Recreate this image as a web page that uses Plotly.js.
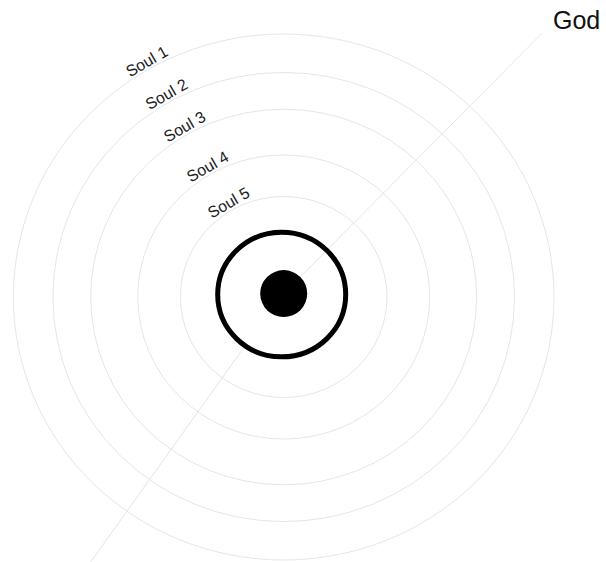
<!DOCTYPE html>
<html>
<head>
<meta charset="utf-8">
<script src="https://cdn.plot.ly/plotly-3.0.1.min.js"></script>
<style>html,body{margin:0;padding:0;background:#fff;}#chart{width:606px;height:562px;}</style>
</head>
<body>
<div id="chart"></div>
<script>
// ---- data ----
const soulLabels = ['Soul 1', 'Soul 2', 'Soul 3', 'Soul 4', 'Soul 5'];
const soulRadius = [270.3, 230.8, 193, 146, 103.3];
const labelAngleDeg = 119.5;      // where the soul labels sit around the rings
const ringRadius = 64;            // the thick black ring
const coreSize = 47;              // the filled core
const godLabel = 'God';
const godX = [0, 258.5];          // line from the centre to God
const godY = [0, 267.7];
const lowerAngleDeg = 235.2;      // line leaving the ring to the lower left
const lowerR = [64, 420];

// ---- layout helpers ----
const yScale = 0.973;             // pixel per unit vertically (x is 1)
const W = 606, H = 562;
const cxPx = 283.7, cyPx = 297;
const xRange = [-cxPx, W - cxPx];
const yRange = [-(H - cyPx) / yScale, cyPx / yScale];

const shapes = soulRadius.map(r => ({
  type: 'circle', xref: 'x', yref: 'y',
  x0: -r, x1: r, y0: -r, y1: r,
  line: {color: '#e6e6e6', width: 1}
}));
shapes.push({
  type: 'circle', xref: 'x', yref: 'y',
  x0: -ringRadius - 2, x1: ringRadius - 2, y0: -ringRadius + 2.5, y1: ringRadius + 2.5,
  line: {color: '#000', width: 5}
});

const a = lowerAngleDeg * Math.PI / 180;
const lowerX = lowerR.map(r => -2 + r * Math.cos(a));
const lowerY = lowerR.map(r => 2.5 + r * Math.sin(a));

const traces = [
  {x: godX, y: godY.map(v => v + 3.5), mode: 'lines', line: {color: '#e6e6e6', width: 1}, hoverinfo: 'skip'},
  {x: lowerX, y: lowerY, mode: 'lines', line: {color: '#e6e6e6', width: 1}, hoverinfo: 'skip'},
  {x: [0], y: [3.5], mode: 'markers', marker: {color: '#000', size: coreSize, line: {width: 0}}, hoverinfo: 'skip'}
];

const la = labelAngleDeg * Math.PI / 180;
const annotations = soulLabels.map((t, i) => ({
  x: (soulRadius[i] + 8) * Math.cos(la),
  y: (soulRadius[i] + 8) * Math.sin(la),
  xref: 'x', yref: 'y', text: t, showarrow: false,
  textangle: -30,
  xanchor: 'center', yanchor: 'middle',
  font: {family: 'Liberation Sans, Arial, sans-serif', size: 16, color: '#222'}
}));
annotations.push({
  x: godX[1], y: godY[1] + 3.5, xref: 'x', yref: 'y', text: godLabel, showarrow: false,
  xanchor: 'left', yanchor: 'bottom', xshift: 9, yshift: -3,
  font: {family: 'Liberation Sans, Arial, sans-serif', size: 25, color: '#111'}
});

const layout = {
  width: W, height: H,
  margin: {l: 0, r: 0, t: 0, b: 0},
  paper_bgcolor: '#fff', plot_bgcolor: '#fff',
  showlegend: false,
  xaxis: {range: xRange, visible: false, fixedrange: true},
  yaxis: {range: yRange, visible: false, fixedrange: true},
  shapes: shapes,
  annotations: annotations
};

Plotly.newPlot('chart', traces, layout, {displayModeBar: false, staticPlot: true});
</script>
</body>
</html>
